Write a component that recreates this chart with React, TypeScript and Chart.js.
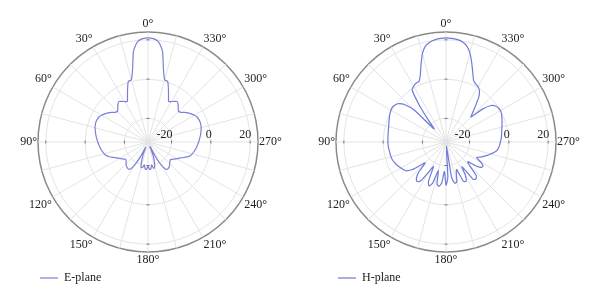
import React, { useEffect, useRef } from "react";
import { Chart, registerables } from "chart.js";

Chart.register(...registerables);

const STEP = 3;
// angle categories (degrees, counter-clockwise from 0° at top)
const ANGLES: number[] = Array.from({ length: 360 / STEP }, (_, i) => i * STEP);
const ANGLE_TICKS = [0, 30, 60, 90, 120, 150, 180, 210, 240, 270, 300, 330];
const RADIAL_TICKS = [-20, 0, 20];
const R_MIN = -32;
const R_MAX = 24;

// E-plane gain (dB) at ANGLES
const E_PLANE = [
  21.0, 20.7, 19.3, 15.0, 5.8, 0.8, 0.4, -3.0, -6.3, -8.8,
  -8.2, -7.4, -6.6, -7.6, -9.0, -10.0, -9.4, -8.0, -6.8, -5.7,
  -4.7, -4.0, -3.7, -3.6, -3.8, -4.1, -4.6, -5.0, -5.5, -6.0,
  -6.4, -6.9, -7.3, -7.8, -8.3, -8.9, -9.6, -11.0, -12.7, -14.2,
  -15.3, -16.3, -17.2, -17.6, -17.0, -16.2, -15.6, -15.2, -15.0, -15.6,
  -18.5, -23.5, -29.0, -25.0, -21.0, -18.5, -18.8, -20.2, -18.2, -18.0,
  -20.0, -18.0, -18.2, -20.2, -18.3, -18.8, -21.5, -25.0, -29.5, -23.0,
  -18.2, -15.4, -15.0, -15.2, -15.7, -16.3, -17.0, -17.5, -17.0, -16.0,
  -15.0, -14.0, -12.5, -10.8, -9.4, -8.7, -8.1, -7.6, -7.1, -6.7,
  -6.2, -5.8, -5.3, -4.8, -4.4, -4.0, -3.7, -3.6, -3.7, -4.0,
  -4.7, -5.7, -6.8, -8.0, -9.4, -10.0, -9.0, -7.6, -6.6, -7.4,
  -8.2, -8.8, -6.3, -3.0, 0.4, 0.8, 5.8, 15.0, 19.3, 20.7,
];

// H-plane gain (dB) at ANGLES
const H_PLANE = [
  21.0, 20.8, 20.4, 19.6, 18.0, 14.5, 9.2, 4.5, 1.8, 1.6,
  0.9, -0.3, -9.0, -18.0, -23.0, -9.0, -3.5, -1.0, 0.0, 0.5,
  0.4, 0.0, -0.5, -1.0, -1.4, -1.8, -2.0, -2.2, -2.3, -2.4,
  -2.4, -2.5, -2.6, -2.8, -2.9, -3.0, -3.2, -3.6, -4.2, -4.8,
  -5.5, -6.2, -7.0, -9.5, -14.0, -17.0, -11.0, -8.0, -7.0, -8.5,
  -14.0, -18.0, -10.0, -8.0, -10.0, -17.0, -10.0, -9.2, -11.0, -17.0,
  -10.0, -14.0, -30.0, -14.0, -10.6, -10.8, -15.0, -17.0, -10.0, -9.5,
  -12.0, -17.0, -8.5, -7.8, -9.0, -15.0, -17.0, -13.0, -10.0, -9.5,
  -11.5, -14.5, -13.0, -11.5, -10.0, -8.5, -6.8, -5.6, -5.0, -4.6,
  -4.3, -3.9, -3.6, -3.3, -3.0, -2.5, -2.0, -1.4, -0.9, -0.3,
  0.0, -0.2, -0.8, -2.5, -7.0, -14.0, -11.5, -8.0, -3.5, -0.8,
  0.6, 1.2, 2.5, 6.0, 10.4, 15.0, 18.2, 19.8, 20.5, 20.8,
];

const FONT = "'Liberation Serif', 'Times New Roman', serif";
const TEXT = "#222222";
const GRID = "#e3e3e3";
const OUTER = "#8a8a8a";
const AXIS_MARK = "#777777";

// Chart.js radar goes clockwise from the top; reference angles increase counter-clockwise
const LABEL_ANGLES = ANGLES.map((_, i) => (360 - i * STEP) % 360);
const toChartOrder = (series: number[]) => LABEL_ANGLES.map((a) => series[a / STEP]);

const polarText = {
  id: "polarText",
  afterDraw(chart: any) {
    const s = chart.scales.r;
    const ctx = chart.ctx as CanvasRenderingContext2D;
    const h = 14.4;
    ctx.save();
    // small marks where the grid circles cross the four main axes
    ctx.strokeStyle = AXIS_MARK;
    ctx.lineWidth = 1;
    [0, 90, 180, 270].forEach((a) => {
      const idx = ((360 - a) % 360) / STEP;
      RADIAL_TICKS.forEach((v) => {
        const d = s.getDistanceFromCenterForValue(v);
        const p = s.getPointPosition(idx, d);
        const horiz = a === 90 || a === 270;
        ctx.beginPath();
        if (horiz) {
          ctx.moveTo(p.x, p.y - 1.5);
          ctx.lineTo(p.x, p.y + 1.5);
        } else {
          ctx.moveTo(p.x - 1.5, p.y);
          ctx.lineTo(p.x + 1.5, p.y);
        }
        ctx.stroke();
      });
    });
    ctx.fillStyle = TEXT;
    ctx.font = `12px ${FONT}`;
    ctx.textBaseline = "middle";
    ANGLE_TICKS.forEach((a) => {
      const idx = ((360 - a) % 360) / STEP;
      const p = s.getPointPosition(idx, s.drawingArea + 1);
      const ang = (idx * STEP) % 360;
      ctx.textAlign = ang === 0 || ang === 180 ? "center" : ang < 180 ? "left" : "right";
      let y = p.y;
      if (ang === 90 || ang === 270) y -= h / 2;
      else if (ang > 270 || ang < 90) y -= h;
      ctx.fillText(`${a}°`, p.x, y + h / 2);
    });
    ctx.textAlign = "right";
    RADIAL_TICKS.forEach((v) => {
      const d = s.getDistanceFromCenterForValue(v);
      ctx.fillText(String(v), s.xCenter + d + 1, s.yCenter - 7);
    });
    ctx.restore();
  },
};

function PolarChart({ series, label, color, left }: { series: number[]; label: string; color: string; left: number }) {
  const ref = useRef<HTMLCanvasElement>(null);
  useEffect(() => {
    const chart = new Chart(ref.current as HTMLCanvasElement, {
      type: "radar",
      data: {
        labels: LABEL_ANGLES.map((a) => `${a}°`),
        datasets: [
          {
            label,
            data: toChartOrder(series),
            borderColor: color,
            backgroundColor: "transparent",
            borderWidth: 1.2,
            pointRadius: 0,
            fill: false,
            tension: 0.2,
          },
        ],
      },
      options: {
        responsive: false,
        maintainAspectRatio: false,
        animation: false,
        events: [],
        layout: { padding: { left: 38, right: 42, top: 14, bottom: 13 } },
        plugins: {
          tooltip: { enabled: false },
          legend: {
            display: true,
            position: "bottom",
            align: "start",
            labels: {
              usePointStyle: true,
              pointStyle: "line",
              pointStyleWidth: 18,
              padding: 2,
              color: TEXT,
              font: { family: FONT, size: 12 },
            },
          },
        },
        scales: {
          r: {
            min: R_MIN,
            max: R_MAX,
            startAngle: 0,
            afterBuildTicks: (scale: any) => {
              scale.ticks = [...RADIAL_TICKS, R_MAX].map((v) => ({ value: v }));
            },
            ticks: { display: false },
            pointLabels: { display: false },
            grid: {
              circular: true,
              color: (c: any) => (c.index === RADIAL_TICKS.length ? OUTER : GRID),
              lineWidth: (c: any) => (c.index === RADIAL_TICKS.length ? 1.5 : 1),
            },
            angleLines: {
              display: true,
              color: GRID,
              lineWidth: (c: any) => (c.index % 5 === 0 ? 1 : 0),
            },
          },
        },
      },
      plugins: [polarText],
    } as any);
    return () => chart.destroy();
  }, [series, label, color]);
  return (
    <canvas
      ref={ref}
      width={300}
      height={307}
      style={{ position: "absolute", left, top: 0, width: 300, height: 307 }}
    />
  );
}

export default function App() {
  return (
    <div style={{ position: "absolute", left: 0, top: 0, width: 600, height: 307, background: "#ffffff", overflow: "hidden" }}>
      <PolarChart series={E_PLANE} label="E-plane" color="#7b80d6" left={0} />
      <PolarChart series={H_PLANE} label="H-plane" color="#6c7bdc" left={298} />
    </div>
  );
}
